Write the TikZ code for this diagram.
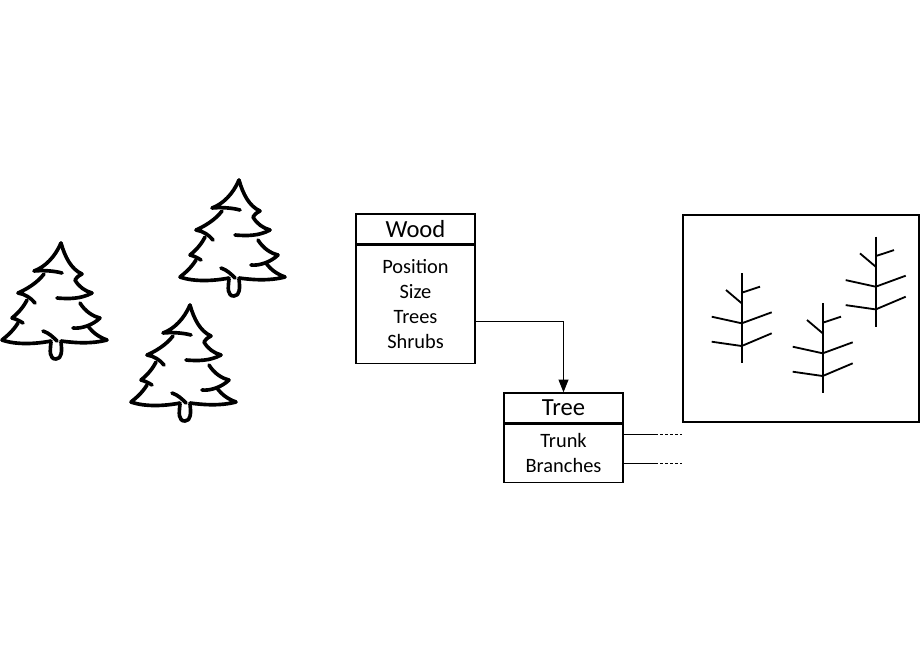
\documentclass[tikz,border=0pt]{standalone}
\usepackage{fontspec}
\setmainfont{Carlito}
\usetikzlibrary{positioning,arrows.meta}
\def\pinetree(#1,#2){%
	\begin{scope}[shift={(#1,#2)}, line width=2.6pt, line cap=round, line join=round]
		\draw (0,0) .. controls (-6,14) and (-16,24) .. (-27,28) .. controls (-18,27) and (-6,28) .. (1,30);
		\draw (-17,31) .. controls (-24,40) and (-34,46) .. (-43,50) .. controls (-36,51) and (-30,55) .. (-26,60);
		\draw (-34,57) .. controls (-38,65) and (-44,71) .. (-49,75) .. controls (-45,76) and (-41,78) .. (-38,80);
		\draw (-43,80) .. controls (-48,88) and (-54,93) .. (-59,97) .. controls (-45,102) and (-25,101) .. (-10,98);
		\draw (-18,88) .. controls (-12,90) and (-8,94) .. (-4,98);
		\draw (-10,99) .. controls (-11,108) and (-12,116) .. (-5,116) .. controls (1,116) and (1,108) .. (0,99);
		\draw (0,0) .. controls (4,14) and (10,26) .. (21,31) .. controls (17,33) and (15,35) .. (14,37) .. controls (18,44) and (24,48) .. (31,50);
		\draw (31,50) .. controls (20,56) and (8,56) .. (-4,55);
		\draw (19,60) .. controls (24,68) and (31,73) .. (39,75) .. controls (32,82) and (20,86) .. (12,85);
		\draw (27,83) .. controls (32,90) and (38,94) .. (46,97) .. controls (30,101) and (15,100) .. (0,98);
	\end{scope}}
\def\twigtree(#1,#2){%
	\begin{scope}[shift={(#1,#2)}, line width=1.3pt]
		\draw (0,0) -- (0,90);
		\draw (0,19.4) -- (18.3,13.4);
		\draw (-15.7,16.7) -- (0,30);
		\draw (-30,43.4) -- (0,50) -- (30,39);
		\draw (-30,68.4) -- (0,72.7) -- (30,60);
	\end{scope}}

\begin{document}
\begin{tikzpicture}[x=0.025cm, y=-0.025cm,
		classhead/.style={draw, line width=0.9pt, minimum width=2.975cm, minimum height=0.75cm, inner sep=0pt, font=\fontsize{17.5}{20}\selectfont},
		classbody/.style={draw, line width=0.9pt, minimum width=2.975cm, inner sep=0pt, align=center, font=\fontsize{14.5}{17.8}\selectfont},
		link/.style={line width=0.7pt}]
		%%%%% START %%%%%
		\useasboundingbox (0,0) rectangle (920,660);
		
		\pinetree(61,243)
		\pinetree(239,180)
		\pinetree(190,305)
		
		\node[classhead] (woodhead) at (415.5,229) {Wood};
		\node[classbody, minimum height=2.95cm, below=0pt of woodhead] (woodbody) {Position\\Size\\Trees\\Shrubs};
		
		\node[classhead] (treehead) at (563.5,408) {Tree};
		\node[classbody, minimum height=1.45cm, below=0pt of treehead] (treebody) {Trunk\\Branches};
		
		\node[draw, line width=1.2pt, minimum width=5.9cm, minimum height=5.175cm, inner sep=0pt] (sketch) at (801,318.5) {};
		
		\twigtree(741.7,273.3)
		\twigtree(822.7,303.3)
		\twigtree(875.7,236.7)
		
		\coordinate (treesrow) at (475,321.5);
		\draw[link, -{Triangle[length=9pt, width=7pt]}] (woodbody.east |- treesrow) -| (treehead.north);
		
		\coordinate (trunkrow) at (655,434.3);
		\coordinate (branchrow) at (655,463.3);
		\draw[link] (treebody.east |- trunkrow) -- (trunkrow);
		\draw[link, dash pattern=on 2.2pt off 1.4pt] (trunkrow) -- (sketch.west |- trunkrow);
		\draw[link] (treebody.east |- branchrow) -- (branchrow);
		\draw[link, dash pattern=on 2.2pt off 1.4pt] (branchrow) -- (sketch.west |- branchrow);
		
		%%%%% END %%%%%
\end{tikzpicture}
\end{document}
